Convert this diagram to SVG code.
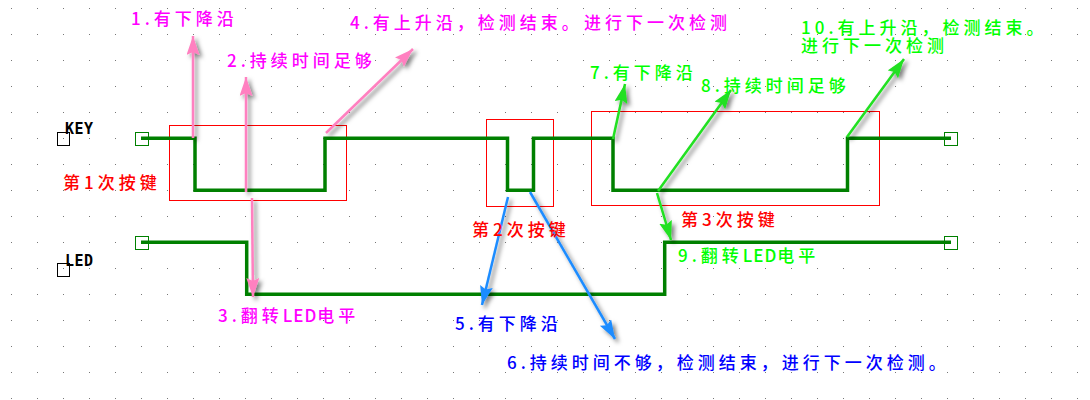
<svg xmlns="http://www.w3.org/2000/svg" width="1090" height="400" viewBox="0 0 1090 400">
<style>
text{font-family:"Noto Sans CJK SC","Liberation Sans",sans-serif;font-size:17px;font-weight:500;letter-spacing:4px}
.m{fill:#f0f}.b{fill:#00f}.g{fill:#0f0}.r{fill:#f00}
text.pin{font-family:"DejaVu Sans Mono",monospace;font-size:15px;font-weight:700;letter-spacing:.5px;fill:#000}
.box{fill:none;stroke:#f00;stroke-width:1}
.wave{fill:none;stroke:#008000;stroke-width:3.500}
.term{fill:none;stroke:#008000;stroke-width:1}
.sq{fill:none;stroke:#000;stroke-width:1}
.ap{stroke:#ff80c0;stroke-width:2.500;fill:none;marker-end:url(#hp)}
.ab{stroke:#1e8cff;stroke-width:2.500;fill:none;marker-end:url(#hb)}
.ag{stroke:#20e020;stroke-width:2.500;fill:none;marker-end:url(#hg)}
.t{letter-spacing:1px}
</style>
<defs>
<pattern id="dots" x="11" y="8" width="26" height="26" patternUnits="userSpaceOnUse"><rect width="1" height="1" fill="#777"/></pattern>
<marker id="hp" markerUnits="userSpaceOnUse" markerWidth="20" markerHeight="14" refX="19" refY="6.500" orient="auto"><path d="M0 0L19 6.500L0 13L3 6.500Z" fill="#ff80c0"/></marker>
<marker id="hb" markerUnits="userSpaceOnUse" markerWidth="20" markerHeight="14" refX="19" refY="6.500" orient="auto"><path d="M0 0L19 6.500L0 13L3 6.500Z" fill="#1e8cff"/></marker>
<marker id="hg" markerUnits="userSpaceOnUse" markerWidth="20" markerHeight="14" refX="19" refY="6.500" orient="auto"><path d="M0 0L19 6.500L0 13L3 6.500Z" fill="#20e020"/></marker>
<filter id="sh" x="-10%" y="-10%" width="120%" height="120%"><feDropShadow dx="3" dy="3" stdDeviation="2" flood-color="#000" flood-opacity=".5"/></filter>
</defs>
<rect width="1090" height="400" fill="#fff"/>
<rect width="1090" height="400" fill="url(#dots)"/>
<g id="boxes">
<rect class="box" x="169.500" y="125.500" width="177" height="75"/>
<rect class="box" x="486.500" y="119.500" width="67" height="87"/>
<rect class="box" x="591.500" y="111.500" width="288" height="94"/>
</g>
<g id="key-node">
<rect class="sq" x="57.500" y="132.500" width="12" height="13"/>
<text class="pin" x="65" y="134">KEY</text>
<rect class="term" x="135.500" y="132.500" width="13" height="13"/>
<rect class="term" x="944.500" y="132.500" width="13" height="13"/>
</g>
<g id="led-node">
<rect class="sq" x="57.500" y="263.500" width="12" height="13"/>
<text class="pin" x="65" y="266">LED</text>
<rect class="term" x="135.500" y="236.500" width="13" height="13"/>
<rect class="term" x="944.500" y="236.500" width="13" height="13"/>
</g>
<g id="connectors">
<path class="wave" d="M141 138.300H195V190.300H325V138.300H507.500V190.300H533.500V138.300H613V190.300H847.500V138.300H951"/>
<path class="wave" d="M141 242.300H246.700V294.300H664.700V242.300H951"/>
<g filter="url(#sh)">
<path class="ap" d="M193 138L193 36"/>
<path class="ap" d="M246 192L246 77"/>
<path class="ap" d="M252 198L253 297"/>
<path class="ap" d="M326 133L413 49"/>
<path class="ab" d="M508 197L482 305"/>
<path class="ab" d="M530 192L615 339"/>
<path class="ag" d="M613 139L625 84"/>
<path class="ag" d="M658 191L731 90"/>
<path class="ag" d="M657 193L671 240"/>
<path class="ag" d="M847 137L904 59"/>
</g>
</g>
<g id="label-1"><text class="m" x="131" y="25">1.有下降沿</text></g>
<g id="label-2"><text class="m" x="227" y="67">2.持续时间足够</text></g>
<g id="label-3"><text class="m" x="218" y="322">3.翻转<tspan class="t">LED</tspan>电平</text></g>
<g id="label-4"><text class="m" x="350" y="29">4.有上升沿，检测结束。<tspan x="584">进行下一次检测</tspan></text></g>
<g id="label-5"><text class="b" x="455" y="330">5.有下降沿</text></g>
<g id="label-6"><text class="b" x="507" y="369">6.持续时间不够，检测结束，进行下一次检测。</text></g>
<g id="label-7"><text class="g" x="590" y="79">7.有下降沿</text></g>
<g id="label-8"><text class="g" x="701" y="92">8.持续时间足够</text></g>
<g id="label-9"><text class="g" x="678" y="262">9.翻转<tspan class="t">LED</tspan>电平</text></g>
<g id="label-10"><text class="g" x="801" y="34">10.有上升沿，检测结束。<tspan x="801" y="52">进行下一次检测</tspan></text></g>
<g id="press-1"><text class="r" x="63" y="189">第1次按键</text></g>
<g id="press-2"><text class="r" x="472" y="236">第2次按键</text></g>
<g id="press-3"><text class="r" x="681" y="226">第3次按键</text></g>
</svg>
